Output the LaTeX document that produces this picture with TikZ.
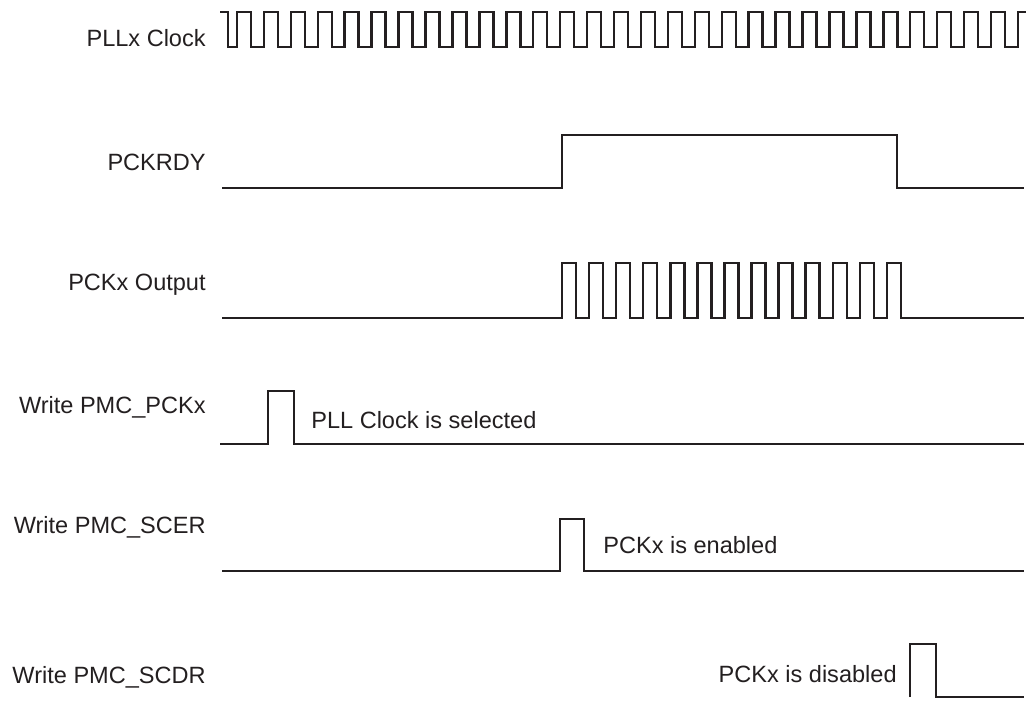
\documentclass[tikz,border=0pt]{standalone}
\usepackage{fontspec}
\setmainfont{Liberation Sans}
\usepackage{xcolor}
\definecolor{ink}{HTML}{231F20}

\begin{document}
\begin{tikzpicture}[
  x=0.02cm, y=-0.02cm,
  sig/.style={draw=ink, line width=1.4pt, line join=miter},
  lbl/.style={anchor=base east, inner sep=0pt, text=ink, font=\fontsize{13.4}{16}\selectfont},
  note/.style={inner sep=0pt, text=ink, font=\fontsize{13.4}{16}\selectfont},
]
\useasboundingbox (0,0) rectangle (1032,701);

\node[lbl] (pll) at (206,46) {PLLx Clock};
\node[lbl] (rdy) at (206,170) {PCKRDY};
\node[lbl] (out) at (206,290) {PCKx Output};
\node[lbl] (wpck) at (206,413) {Write PMC\_PCKx};
\node[lbl] (wscer) at (206,533) {Write PMC\_SCER};
\node[lbl] (wscdr) at (206,683) {Write PMC\_SCDR};

\draw[sig] (220,12) -- (228,12) -- (228,47) -- (237,47)
  \foreach \k in {0,...,28} { -- ++(0,-35) -- ++(14,0) -- ++(0,35) -- ++(12.93,0) }
  -- ++(0,-35) -- ++(8,0);

\draw[sig] (222,188) -- (562,188) -- (562,135) -- (897,135) -- (897,188) -- (1024,188);

\draw[sig] (222,318) -- (562,318)
  \foreach \k in {0,...,12} { -- ++(0,-55) -- ++(14,0) -- ++(0,55) -- ++(13.08,0) }
  -- (1024,318);

\draw[sig] (220,444) -- (268,444) -- (268,391) -- (294,391) -- (294,444) -- (1024,444);
\draw[sig] (222,571) -- (560,571) -- (560,519) -- (584,519) -- (584,571) -- (1024,571);
\draw[sig] (910,697) -- (910,644) -- (936,644) -- (936,697) -- (1024,697);

\node[note, anchor=base west] (sel) at (311,428) {PLL Clock is selected};
\node[note, anchor=base west] (ena) at (603,553) {PCKx is enabled};
\node[note, anchor=base east] (dis) at (897,682) {PCKx is disabled};
\end{tikzpicture}
\end{document}
